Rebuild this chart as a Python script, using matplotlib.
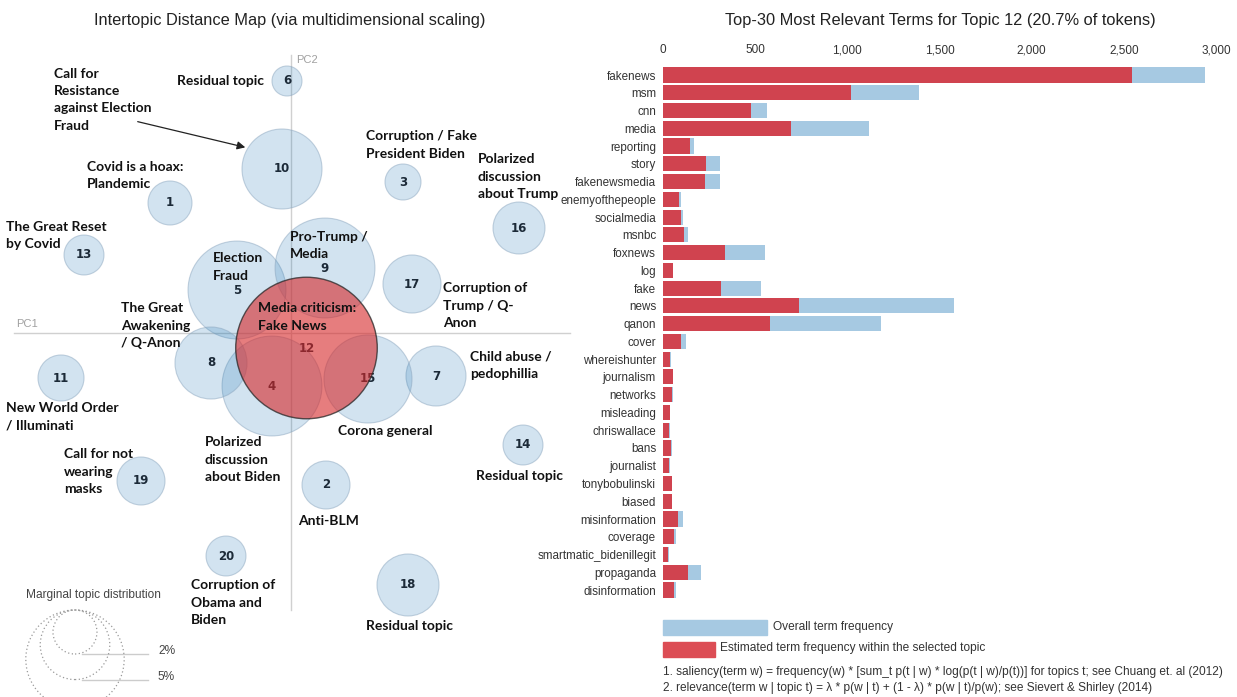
import numpy as np
import matplotlib.pyplot as plt
from matplotlib.patches import Circle, Rectangle

W, H = 1237, 697

# ---- intertopic distance map (MDS coordinates, share of tokens in %) ----
topic_ids = list(range(1, 21))
topic_pc1 = [-1.21, 0.35, 1.12, -0.19, -0.54, -0.04, 1.45, -0.80, 0.34, -0.09,
             -2.30, 0.155, -2.07, 2.32, 0.77, 2.28, 1.21, 1.17, -1.50, -0.65]
topic_pc2 = [1.30, -1.52, 1.51, -0.53, 0.43, 2.52, -0.43, -0.30, 0.65, 1.64,
             -0.45, -0.15, 0.78, -1.12, -0.46, 1.05, 0.49, -2.52, -1.48, -2.23]
topic_share = [2.0, 2.38, 1.34, 10.3, 9.9, 0.93, 3.72, 5.36, 10.3, 6.61,
               2.19, 20.7, 1.65, 1.65, 8.0, 2.79, 3.48, 3.97, 2.38, 1.65]
selected = 12

legend_shares = [2, 5, 10]

# topic names: text, left x (px), centre y of first line (px)
topic_labels = [
    ("Call for\nResistance\nagainst Election\nFraud", 54, 73),
    ("Residual topic", 177, 81),
    ("Corruption / Fake\nPresident Biden", 366, 136),
    ("Polarized\ndiscussion\nabout Trump", 478, 159),
    ("Covid is a hoax:\nPlandemic", 87, 167),
    ("The Great Reset\nby Covid", 6, 227),
    ("Election\nFraud", 213, 258),
    ("Pro-Trump /\nMedia", 290, 237),
    ("Corruption of\nTrump / Q-\nAnon", 443, 288),
    ("Media criticism:\nFake News", 258, 308),
    ("The Great\nAwakening\n/ Q-Anon", 121, 308),
    ("Child abuse /\npedophillia", 470, 356),
    ("New World Order\n/ Illuminati", 6, 408),
    ("Corona general", 338, 431),
    ("Polarized\ndiscussion\nabout Biden", 205, 442),
    ("Call for not\nwearing\nmasks", 64, 454),
    ("Residual topic", 476, 476),
    ("Anti-BLM", 298, 521),
    ("Corruption of\nObama and\nBiden", 191, 585),
    ("Residual topic", 366, 626),
]

# ---- top-30 terms for topic 12 ----
terms = ["fakenews", "msm", "cnn", "media", "reporting", "story", "fakenewsmedia",
         "enemyofthepeople", "socialmedia", "msnbc", "foxnews", "log", "fake", "news",
         "qanon", "cover", "whereishunter", "journalism", "networks", "misleading",
         "chriswallace", "bans", "journalist", "tonybobulinski", "biased",
         "misinformation", "coverage", "smartmatic_bidenillegit", "propaganda",
         "disinformation"]
overall_freq = [2940, 1388, 562, 1117, 170, 308, 308, 97, 110, 137, 555, 53, 531, 1577,
                1183, 123, 42, 55, 53, 39, 37, 48, 37, 50, 50, 106, 68, 31, 205, 70]
topic_freq = [2546, 1020, 478, 694, 148, 231, 227, 88, 99, 115, 335, 53, 315, 740,
              581, 97, 40, 53, 51, 37, 35, 46, 35, 48, 48, 79, 57, 29, 134, 57]

BLUE_FILL = (0.122, 0.467, 0.706, 0.2)
RED_FILL = (0.839, 0.153, 0.157, 0.6)
BAR_BLUE = "#a6c9e2"
BAR_RED = "#d0434f"
LABEL_FONT = "Lato"
PITCH = 17.7  # px between label lines

fig = plt.figure(figsize=(W / 100, H / 100), dpi=100)


def px(x, y):
    # pixel position on the left panel -> PC units
    return (x - 291) / 100, (333 - y) / 100


# left panel, 100 px per PC unit
ax = fig.add_axes([0, 0, 580 / W, 657 / H])
ax.set_xlim(-2.91, 2.89)
ax.set_ylim(-3.64, 2.93)
ax.axis("off")

ax.plot([px(14, 0)[0], px(570, 0)[0]], [0, 0], color="#d0d0d0", lw=1, zorder=0)
ax.plot([0, 0], [px(0, 55)[1], px(0, 610)[1]], color="#d0d0d0", lw=1, zorder=0)
ax.text(*px(16, 324), "PC1", color="#a0a0a0", fontsize=8, va="center", family="Liberation Sans")
ax.text(*px(296, 60), "PC2", color="#a0a0a0", fontsize=8, va="center", family="Liberation Sans")


def radius(share):
    return 0.22 * np.sqrt(share / 2)


for t, x, y, s in zip(topic_ids, topic_pc1, topic_pc2, topic_share):
    if t == selected:
        ax.add_patch(Circle((x, y), radius(s), facecolor=RED_FILL,
                            edgecolor=(0.15, 0.15, 0.15, 0.75), lw=1, zorder=3))
    else:
        ax.add_patch(Circle((x, y), radius(s), facecolor=BLUE_FILL,
                            edgecolor=(0.55, 0.65, 0.75, 0.5), lw=0.8, zorder=1))
    ax.text(x, y, str(t), ha="center", va="center", fontsize=8.5, fontweight="bold",
            color="#1c2a38", family="DejaVu Sans", zorder=2)

for text, lx, ly in topic_labels:
    nl = text.count("\n")
    x, y = px(lx, ly + nl * PITCH / 2)
    ax.text(x, y, text, ha="left", va="center", fontsize=10, fontweight="bold",
            color="#111111", family=LABEL_FONT, linespacing=1.53, zorder=5)

ax.annotate("", xy=px(248, 148), xytext=px(135, 121),
            arrowprops=dict(arrowstyle="-|>", color="#222222", lw=0.9, mutation_scale=12),
            zorder=5)

# marginal topic distribution legend
ax.text(*px(93, 595), "Marginal topic distribution", ha="center", va="center",
        fontsize=8.6, color="#444444", family="Liberation Sans")
top = px(75, 610)
for s in legend_shares:
    r = radius(s)
    ax.add_patch(Circle((top[0], top[1] - r), r, facecolor="none", edgecolor="#999999",
                        lw=0.9, linestyle=(0, (1, 2)), zorder=2))
    yb = top[1] - 2 * r
    ax.plot([top[0] + 0.07, top[0] + 0.73], [yb, yb], color="#cccccc", lw=1, zorder=1)
    if yb > -3.6:
        ax.text(top[0] + 0.83, yb + 0.025, f"{s}%", va="center", fontsize=8.6,
                color="#444444", family="Liberation Sans")

fig.text(290 / W, 1 - 20 / H, "Intertopic Distance Map (via multidimensional scaling)",
         ha="center", va="center", fontsize=11.8, color="#222222", family="Liberation Sans")

# right panel: bar chart
n = len(terms)
row = 17.76
bx0, bx1 = 663, 1216
top_px = 75 - row / 2
bot_px = top_px + n * row
bax = fig.add_axes([bx0 / W, 1 - bot_px / H, (bx1 - bx0) / W, n * row / H])
yy = np.arange(n)
bax.barh(yy, overall_freq, height=0.85, color=BAR_BLUE)
bax.barh(yy, topic_freq, height=0.85, color=BAR_RED)
bax.set_xlim(0, 3000)
bax.set_ylim(n - 0.5, -0.5)
bax.set_yticks(yy)
bax.set_yticklabels(terms, fontsize=8.4, color="#333333", family="Liberation Sans")
bax.set_xticks([0, 500, 1000, 1500, 2000, 2500, 3000])
bax.set_xticklabels(["0", "500", "1,000", "1,500", "2,000", "2,500", "3,000"],
                    fontsize=8.5, color="#333333", family="Liberation Sans")
bax.xaxis.tick_top()
bax.tick_params(axis="both", length=0)
bax.tick_params(axis="x", pad=7)
bax.tick_params(axis="y", pad=5)
for sp in bax.spines.values():
    sp.set_visible(False)

fig.text(940 / W, 1 - 20 / H, "Top-30 Most Relevant Terms for Topic 12 (20.7% of tokens)",
         ha="center", va="center", fontsize=11.8, color="#222222", family="Liberation Sans")

# legend + footnotes
fig.patches.append(Rectangle((663 / W, 1 - 635 / H), 104 / W, 15 / H, color=BAR_BLUE,
                             transform=fig.transFigure, figure=fig))
fig.patches.append(Rectangle((663 / W, 1 - 657 / H), 52 / W, 15 / H, color="#dc4d55",
                             transform=fig.transFigure, figure=fig))
fig.text(773 / W, 1 - 627 / H, "Overall term frequency", va="center", fontsize=8.6,
         color="#333333", family="Liberation Sans")
fig.text(720 / W, 1 - 648 / H, "Estimated term frequency within the selected topic",
         va="center", fontsize=8.6, color="#333333", family="Liberation Sans")
fig.text(663 / W, 1 - 672 / H,
         "1. saliency(term w) = frequency(w) * [sum_t p(t | w) * log(p(t | w)/p(t))] for topics t; see Chuang et. al (2012)",
         va="center", fontsize=8.6, color="#333333", family="Liberation Sans")
fig.text(663 / W, 1 - 688 / H,
         "2. relevance(term w | topic t) = \u03bb * p(w | t) + (1 - \u03bb) * p(w | t)/p(w); see Sievert & Shirley (2014)",
         va="center", fontsize=8.6, color="#333333", family="Liberation Sans")

fig.savefig("out.png", dpi=100)
